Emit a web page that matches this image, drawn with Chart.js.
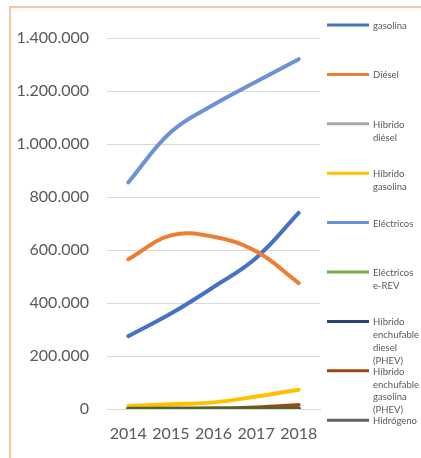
<!DOCTYPE html>
<html lang="es">
<head>
    <meta charset="UTF-8">
    <title>Matriculaciones por combustible</title>
    <script src="https://cdn.jsdelivr.net/npm/chart.js"></script>
    <style>
        html, body { margin: 0; padding: 0; background: #fff; }
        #wrap { position: relative; width: 421px; height: 458px; }
        #frame {
            position: absolute; left: 9px; top: 6px; right: 0; bottom: 0;
            border-left: 2px solid #F8C4A2; border-top: 2px solid #F8C4A2;
            pointer-events: none;
        }
    </style>
</head>
<body>
<div id="wrap">
    <canvas id="chart" width="421" height="458"></canvas>
    <div id="frame"></div>
</div>
<script>
    const years = ['2014', '2015', '2016', '2017', '2018'];
    const seriesNames = ['gasolina', 'Diésel', 'Híbrido diésel', 'Híbrido gasolina', 'Eléctricos',
        'Eléctricos e-REV', 'Híbrido enchufable diesel (PHEV)', 'Híbrido enchufable gasolina (PHEV)', 'Hidrógeno', 'Otros'];
    const seriesColors = ['#4472C4', '#ED7D31', '#A5A5A5', '#FFC000', '#6B92D6',
        '#70AD47', '#264478', '#9E480E', '#636363', '#43682B'];

    const gasolina = [275000, 360000, 460000, 570000, 740000];
    const diesel = [565000, 655000, 650000, 595000, 475000];
    const hibridoDiesel = [0, 0, 0, 0, 0];
    const hibridoGasolina = [11000, 18000, 25000, 47000, 73000];
    const electricos = [855000, 1045000, 1148000, 1235000, 1320000];
    const electricosErev = [0, 0, 0, 0, 0];
    const phevDiesel = [0, 0, 0, 0, 0];
    const phevGasolina = [1000, 1500, 2500, 6000, 15000];
    const hidrogeno = [0, 0, 0, 0, 0];
    const otros = [0, 0, 0, 0, 0];
    const seriesValues = [gasolina, diesel, hibridoDiesel, hibridoGasolina, electricos,
        electricosErev, phevDiesel, phevGasolina, hidrogeno, otros];

    const yTicks = [0, 200000, 400000, 600000, 800000, 1000000, 1200000, 1400000];
    const legendCount = 9;

    const FONT = 'Lato, "Noto Sans", sans-serif';
    const TEXT = '#595959';

    function fmt(v) {
        return v.toString().replace(/\B(?=(\d{3})+(?!\d))/g, '.');
    }

    // legend on the right, each entry starts at a fixed row
    const sideLegend = {
        id: 'sideLegend',
        afterDraw(chart) {
            const ctx = chart.ctx;
            ctx.save();
            ctx.font = '9.5px ' + FONT;
            ctx.fillStyle = TEXT;
            ctx.textBaseline = 'middle';
            for (let i = 0; i < legendCount; i++) {
                const y = 25 + i * 49.4;
                ctx.strokeStyle = seriesColors[i];
                ctx.lineWidth = 3;
                ctx.beginPath();
                ctx.moveTo(327, y);
                ctx.lineTo(369, y);
                ctx.stroke();
                // simple word wrap
                const words = seriesNames[i].split(' ');
                const lines = [];
                let cur = '';
                words.forEach(w => {
                    const t = cur ? cur + ' ' + w : w;
                    if (cur && ctx.measureText(t).width > 46) { lines.push(cur); cur = w; }
                    else cur = t;
                });
                lines.push(cur);
                lines.forEach((l, k) => ctx.fillText(l, 373, y + 1 + k * 12.7));
            }
            ctx.restore();
        }
    };

    const datasets = seriesNames.map((name, i) => ({
        label: name,
        data: seriesValues[i],
        borderColor: seriesColors[i],
        backgroundColor: seriesColors[i],
        borderWidth: 4,
        pointRadius: 0,
        tension: 0.4,
        borderCapStyle: 'round',
        order: 20 - i
    }));

    new Chart(document.getElementById('chart'), {
        type: 'line',
        data: { labels: years, datasets: datasets },
        options: {
            responsive: false,
            animation: false,
            layout: { padding: { top: 38, right: 101, left: 0, bottom: 0 } },
            plugins: { legend: { display: false }, tooltip: { enabled: false } },
            scales: {
                x: {
                    offset: true,
                    grid: { display: false, drawTicks: false },
                    border: { display: true, color: '#D9D9D9', width: 1 },
                    ticks: { color: TEXT, font: { family: FONT, size: 16 }, padding: 15, maxRotation: 0, autoSkip: false },
                    afterFit(s) { s.height = 49; }
                },
                y: {
                    min: 0,
                    max: 1400000,
                    afterBuildTicks(s) { s.ticks = yTicks.map(v => ({ value: v })); },
                    grid: { color: '#D9D9D9', lineWidth: 1, drawTicks: false },
                    border: { display: false },
                    ticks: { color: TEXT, font: { family: FONT, size: 16 }, padding: 18, callback: v => fmt(v) },
                    afterFit(s) { s.width = 107; }
                }
            }
        },
        plugins: [sideLegend]
    });
</script>
</body>
</html>
